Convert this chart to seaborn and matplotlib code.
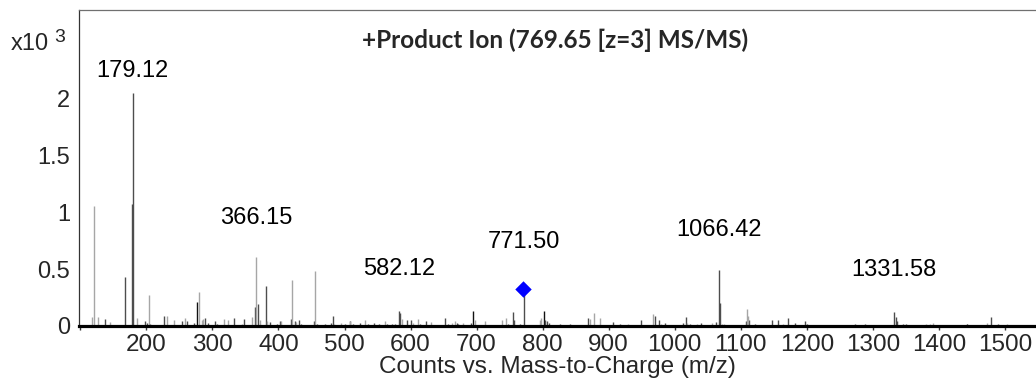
"""MS/MS product ion spectrum, redrawn with seaborn + matplotlib."""

import matplotlib

matplotlib.use("Agg")
import matplotlib.pyplot as plt
import pandas as pd
import seaborn as sns

# peaks: m/z and counts (x10^3), grouped by bar tone
light_mz = [118, 120.6, 126.7, 145, 185.4, 204.1, 231.4, 242, 258.2, 279.5, 283.5, 286,
            317.9, 324, 345.2, 360.4, 366.15, 372, 383, 404, 420.6, 427, 456, 484, 495.4,
            509, 530.8, 561.2, 587.5, 604, 611.8, 631, 662.8, 667, 680, 697, 712.4, 738.7,
            743.8, 795.4, 797, 871, 877.4, 886.5, 930, 966.9, 979, 1019, 1034, 1055.8,
            1072, 1075, 1109, 1111, 1164, 1381, 1386, 1391, 1472.6, 1503]
light_counts = [0.083, 1.057, 0.083, 0.033, 0.072, 0.276, 0.089, 0.055, 0.07, 0.303, 0.05, 0.06,
                0.06, 0.05, 0.02, 0.08, 0.604, 0.055, 0.04, 0.04, 0.405, 0.035, 0.481, 0.02, 0.03,
                0.045, 0.05, 0.045, 0.06, 0.03, 0.065, 0.035, 0.03, 0.045, 0.03, 0.05, 0.045, 0.05,
                0.07, 0.05, 0.07, 0.06, 0.11, 0.07, 0.015, 0.107, 0.02, 0.025, 0.015, 0.025,
                0.02, 0.02, 0.151, 0.09, 0.02, 0.02, 0.015, 0.025, 0.025, 0.015]

dark_mz = [107.4, 137.8, 168.2, 178.1, 179.12, 197.6, 201.5, 206, 215, 226.9, 248, 254.6,
           262.2, 272.4, 288.6, 293.6, 303.8, 307.7, 332, 347.2, 364.5, 368.4, 381.2, 387.2,
           398.3, 402.4, 418.5, 424.6, 430.7, 434, 445, 454, 459, 471.2, 480.3, 482.3, 501,
           507.6, 513, 522.8, 536, 545, 552, 565, 571.3, 576, 582.12, 584, 594.6, 600.6, 615,
           623, 636, 651.7, 657, 670, 672, 687, 691, 748, 755, 757, 766, 771.5, 803, 806, 810,
           825.8, 841, 849, 856, 869.2, 907, 917, 948.7, 952, 970, 976, 985, 1013, 1016.4,
           1023, 1039.7, 1063, 1066.42, 1068, 1107.5, 1113, 1121, 1146.9, 1156, 1171, 1182,
           1197, 1200, 1211, 1273, 1288, 1305, 1312, 1331.58, 1335, 1337, 1346, 1350, 1403,
           1455, 1478.3, 1490, 1494, 1516, 1535]
dark_counts = [0.01, 0.063, 0.434, 1.07, 2.05, 0.045, 0.03, 0.02, 0.01, 0.089, 0.01, 0.045,
               0.045, 0.03, 0.07, 0.03, 0.045, 0.015, 0.07, 0.065, 0.165, 0.195, 0.352, 0.035,
               0.02, 0.04, 0.06, 0.045, 0.05, 0.02, 0.01, 0.04, 0.02, 0.015, 0.025, 0.09, 0.015,
               0.04, 0.02, 0.03, 0.02, 0.03, 0.015, 0.02, 0.02, 0.015, 0.136, 0.11, 0.05, 0.05, 0.02,
               0.04, 0.01, 0.07, 0.02, 0.03, 0.02, 0.01, 0.03, 0.02, 0.127, 0.05, 0.02, 0.3, 0.05, 0.04, 0.025,
               0.02, 0.015, 0.01, 0.01, 0.07, 0.035, 0.015, 0.05, 0.01, 0.085, 0.05, 0.025, 0.025, 0.08,
               0.015, 0.025, 0.035, 0.493, 0.2, 0.045, 0.05, 0.015, 0.05, 0.05, 0.07, 0.03,
               0.045, 0.015, 0.01, 0.015, 0.015, 0.01, 0.01, 0.127, 0.08, 0.04, 0.015, 0.02, 0.01,
               0.01, 0.075, 0.02, 0.01, 0.01, 0.01]

black_mz = [277, 694.2, 801.5, 1443]
black_counts = [0.215, 0.136, 0.136, 0.02]

# precursor marker
precursor_mz = [769.65]
precursor_counts = [0.326]

# annotated peaks
label_text = ["179.12", "366.15", "582.12", "771.50", "1066.42", "1331.58"]
label_mz = [179.12, 366.15, 582.12, 771.50, 1066.42, 1331.58]

x_ticks = list(range(100, 1600, 100))
y_ticks = [0, 0.5, 1, 1.5, 2]
y_tick_labels = ["0", "0.5", "1", "1.5", "2"]

# label heights (layout, in axis data units)
label_y = [2.24, 0.954, 0.504, 0.735, 0.844, 0.493]

peaks = pd.concat([
    pd.DataFrame({"mz": light_mz, "counts": light_counts, "tone": "light"}),
    pd.DataFrame({"mz": dark_mz, "counts": dark_counts, "tone": "dark"}),
    pd.DataFrame({"mz": black_mz, "counts": black_counts, "tone": "black"}),
])
tones = {"light": "#a6a6a6", "dark": "#4d4d4d", "black": "#111111"}

sns.set_theme(style="white")
plt.rcParams["font.family"] = ["Liberation Sans", "DejaVu Sans"]

fig = plt.figure(figsize=(10.36, 3.81), dpi=100, facecolor="white")
ax = fig.add_axes([79 / 1036, 55 / 381, 957 / 1036, 316 / 381])

for tone, grp in peaks.groupby("tone"):
    ax.vlines(grp["mz"], 0, grp["counts"], colors=tones[tone], linewidth=1.0, zorder=2)

sns.scatterplot(x=precursor_mz, y=precursor_counts, marker="D", s=70, color="#0000ff",
                edgecolor="#0000ff", linewidth=0, ax=ax, zorder=4, legend=False)

for text, mz, yy in zip(label_text, label_mz, label_y):
    ax.text(mz, yy, text, ha="center", va="center", fontsize=17, color="black")

ax.set_xlim(98, 1547)
ax.set_ylim(0, 2.78)
ax.set_xticks(x_ticks)
ax.set_xticklabels(["" if t == 100 else str(t) for t in x_ticks], fontsize=17.5)
ax.set_yticks(y_ticks)
ax.set_yticklabels(y_tick_labels, fontsize=17)
ax.tick_params(axis="x", direction="out", length=3, width=1, pad=3, color="#333333",
               bottom=True)
ax.tick_params(axis="y", length=0, pad=6.5)

ax.spines["bottom"].set_linewidth(2.3)
ax.spines["bottom"].set_color("black")
ax.spines["left"].set_linewidth(0.9)
ax.spines["left"].set_color("#333333")
ax.spines["top"].set_linewidth(0.9)
ax.spines["top"].set_color("#707070")
ax.spines["right"].set_visible(False)

ax.set_xlabel("Counts vs. Mass-to-Charge (m/z)", fontsize=17.5, labelpad=0)
ax.set_ylabel("")

fig.text(555 / 1036, 1 - 40 / 381, "+Product Ion (769.65 [z=3] MS/MS)", ha="center",
         va="center", fontsize=17.5, fontweight="bold", family=["Lato", "DejaVu Sans"])
fig.text(11 / 1036, 1 - 44 / 381, "x10", ha="left", va="center", fontsize=17)
fig.text(54 / 1036, 1 - 38 / 381, "3", ha="left", va="center", fontsize=14)

fig.savefig("out.png", dpi=100, facecolor="white")
plt.close(fig)
